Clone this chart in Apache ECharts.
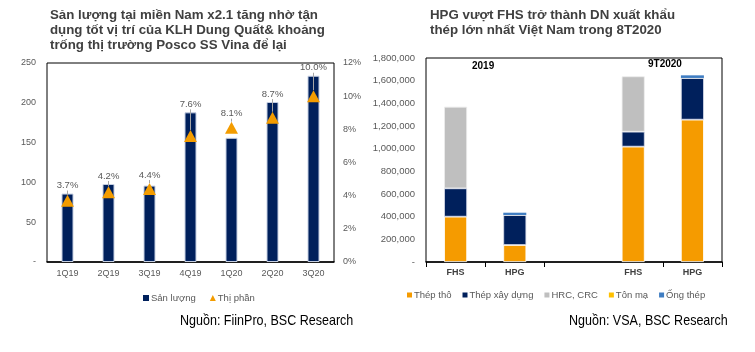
<!DOCTYPE html>
<html><head><meta charset="utf-8">
<script src="https://cdn.jsdelivr.net/npm/echarts@6/dist/echarts.min.js"></script>
<style>html,body{margin:0;padding:0;background:#fff}#c{width:755px;height:352px}</style>
</head><body><div id="c"></div>
<script>
// ---- Left chart data ----
const quarters = ['1Q19','2Q19','3Q19','4Q19','1Q20','2Q20','3Q20'];
const sanLuong = [86, 98, 96, 188, 156, 201, 234];
const thiPhan = [3.7, 4.2, 4.4, 7.6, 8.1, 8.7, 10.0];
// ---- Right chart data ----
const companies = ['FHS','HPG','','FHS','HPG'];
const thepTho     = [400000, 150000, null, 1018000, 1256000];
const thepXayDung = [250000, 265000, null, 132000, 368000];
const hrcCrc      = [720000, 0, null, 488000, 0];
const tonMa       = [0, 0, null, 0, 0];
const ongThep     = [0, 20000, null, 0, 23000];
const periodLabels = ['2019', '9T2020'];
const sources = ['Nguồn: FiinPro, BSC Research', 'Nguồn: VSA, BSC Research'];

const FONT = "'Liberation Sans', Arial, sans-serif";
const GRAY = '#595959';
const chart = echarts.init(document.getElementById('c'));

function fmtNum(v){ return v === 0 ? '-' : v.toLocaleString('en-US'); }

const option = {
  animation: false,
  textStyle: { fontFamily: FONT },
  title: [
    { text: 'Sản lượng tại miền Nam x2.1 tăng nhờ tận\ndụng tốt vị trí của KLH Dung Quất& khoảng\ntrống thị trường Posco SS Vina để lại',
      left: 50, top: 8, padding: 0,
      textStyle: { fontSize: 13.3, fontWeight: 'bold', color: '#404040', lineHeight: 14.8, fontFamily: FONT } },
    { text: 'HPG vượt FHS trở thành DN xuất khẩu\nthép lớn nhất Việt Nam trong 8T2020',
      left: 430, top: 8, padding: 0,
      textStyle: { fontSize: 13.3, fontWeight: 'bold', color: '#404040', lineHeight: 14.8, fontFamily: FONT } },
    { text: periodLabels[0], left: 472, top: 61, padding: 0,
      textStyle: { fontSize: 10, fontWeight: 'bold', color: '#000' } },
    { text: periodLabels[1], left: 648, top: 59, padding: 0,
      textStyle: { fontSize: 10, fontWeight: 'bold', color: '#000' } }
  ],
  graphic: [
    { type: 'text', left: 180, top: 313, scaleX: 0.835,
      style: { text: sources[0], font: "15px 'Liberation Sans', Arial", fill: '#000' } },
    { type: 'text', left: 569, top: 313, scaleX: 0.835,
      style: { text: sources[1], font: "15px 'Liberation Sans', Arial", fill: '#000' } }
  ],
  legend: [
    { left: 143, top: 293, padding: 0, itemWidth: 6, itemHeight: 6, itemGap: 14,
      itemStyle: { borderWidth: 0 },
      textStyle: { fontSize: 9.5, color: GRAY, padding: [0,0,0,-3] },
      data: [{ name: 'Sản lượng', icon: 'rect' }, { name: 'Thị phần', icon: 'triangle' }] },
    { left: 407, top: 290, padding: 0, itemWidth: 5, itemHeight: 5, itemGap: 11,
      itemStyle: { borderWidth: 0 },
      textStyle: { fontSize: 9.5, color: GRAY, padding: [0,0,0,-3] }, icon: 'rect',
      data: ['Thép thô', 'Thép xây dựng', 'HRC, CRC', 'Tôn mạ', 'Ống thép'] }
  ],
  grid: [
    { left: 47, top: 63, width: 287, height: 199, show: true, borderColor: '#000', borderWidth: 1 },
    { left: 426, top: 58, width: 296, height: 204, show: true, borderColor: '#000', borderWidth: 1 }
  ],
  xAxis: [
    { type: 'category', gridIndex: 0, data: quarters,
      axisLine: { lineStyle: { color: '#000', width: 1.5 } }, axisTick: { show: false },
      axisLabel: { color: GRAY, fontSize: 9, margin: 7 } },
    { type: 'category', gridIndex: 1, data: companies,
      axisLine: { lineStyle: { color: '#000', width: 1.5 } },
      axisTick: { show: true, length: 5, inside: false, lineStyle: { color: '#000' },
                  interval: function (i) { return i !== 3; } },
      axisLabel: { color: '#404040', fontSize: 9, fontWeight: 'bold', margin: 6 } }
  ],
  yAxis: [
    { type: 'value', gridIndex: 0, min: 0, max: 250, interval: 50,
      axisLine: { show: false }, axisTick: { show: false }, splitLine: { show: false },
      axisLabel: { color: GRAY, fontSize: 9, margin: 11, formatter: v => v === 0 ? '-' : String(v) } },
    { type: 'value', gridIndex: 0, position: 'right', min: 0, max: 12, interval: 2,
      axisLine: { show: false }, axisTick: { show: false }, splitLine: { show: false },
      axisLabel: { color: GRAY, fontSize: 9, margin: 9, formatter: v => v + '%' } },
    { type: 'value', gridIndex: 1, min: 0, max: 1800000, interval: 200000,
      axisLine: { show: false }, axisTick: { show: false }, splitLine: { show: false },
      axisLabel: { color: GRAY, fontSize: 9.5, margin: 11, formatter: fmtNum } }
  ],
  series: [
    { name: 'Sản lượng', type: 'bar', xAxisIndex: 0, yAxisIndex: 0, data: sanLuong, barWidth: 12,
      itemStyle: { color: '#00205C', borderColor: '#c5cfe2', borderWidth: 1 } },
    { name: 'Thị phần', type: 'scatter', xAxisIndex: 0, yAxisIndex: 1, data: thiPhan,
      symbol: 'triangle', symbolSize: [13, 12], itemStyle: { color: '#F39C00', opacity: 1 }, z: 5,
      label: { show: true, position: 'top', color: GRAY, fontSize: 9.5, formatter: p => p.value.toFixed(1) + '%' },
      labelLine: { show: true, lineStyle: { color: '#a6a6a6', width: 1 } },
      labelLayout: function (params) {
        const i = params.dataIndex;
        let barTop;
        try { barTop = chart.convertToPixel({ xAxisIndex: 0, yAxisIndex: 0 }, [i, sanLuong[i]])[1]; }
        catch (e) { barTop = params.rect.y; }
        const top = Math.min(barTop, params.rect.y);
        return { x: params.rect.x + params.rect.width / 2, y: top - 8, align: 'center', verticalAlign: 'middle' };
      } },
    { name: 'Thép thô', type: 'bar', stack: 's', xAxisIndex: 1, yAxisIndex: 2, data: thepTho, barWidth: 23,
      itemStyle: { color: '#F59B00', borderColor: '#fff', borderWidth: 0.8 } },
    { name: 'Thép xây dựng', type: 'bar', stack: 's', xAxisIndex: 1, yAxisIndex: 2, data: thepXayDung, barWidth: 23,
      itemStyle: { color: '#00205C', borderColor: '#d8dcea', borderWidth: 0.8 } },
    { name: 'HRC, CRC', type: 'bar', stack: 's', xAxisIndex: 1, yAxisIndex: 2, data: hrcCrc, barWidth: 23,
      itemStyle: { color: '#BFBFBF', borderColor: '#eee', borderWidth: 0.8 } },
    { name: 'Tôn mạ', type: 'bar', stack: 's', xAxisIndex: 1, yAxisIndex: 2, data: tonMa, barWidth: 23,
      itemStyle: { color: '#FFC000' } },
    { name: 'Ống thép', type: 'bar', stack: 's', xAxisIndex: 1, yAxisIndex: 2, data: ongThep, barWidth: 23,
      itemStyle: { color: '#3F7DC2' } }
  ]
};
chart.setOption(option);
</script>
</body></html>
